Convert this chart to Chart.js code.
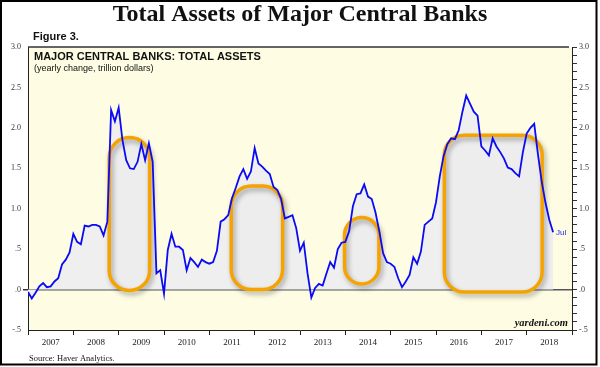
<!DOCTYPE html>
<html>
<head>
<meta charset="utf-8">
<title>Total Assets of Major Central Banks</title>
<script src="https://cdn.jsdelivr.net/npm/chart.js@4.4.1/dist/chart.umd.min.js"></script>
<style>
  html, body { margin: 0; padding: 0; background: #fff; }
  #wrap { width: 600px; height: 367px; position: relative; }
</style>
</head>
<body>
<div id="wrap"><canvas id="assetsChart"></canvas></div>
<script>
// yearly change in total assets, trillion dollars (month ends, Dec 2006 .. Jul 2018)
const assets = [
  -0.03, -0.11, -0.04, 0.04, 0.08, 0.03, 0.04, 0.10, 0.14, 0.31, 0.37, 0.46,
  0.69, 0.59, 0.56, 0.79, 0.78, 0.80, 0.80, 0.78, 0.67, 0.84, 2.22, 2.08,
  2.25, 1.85, 1.60, 1.50, 1.49, 1.58, 1.80, 1.60, 1.81, 1.58, 0.20, 0.24,
  -0.05, 0.49, 0.69, 0.53, 0.53, 0.49, 0.24, 0.39, 0.34, 0.28, 0.37, 0.34,
  0.32, 0.34, 0.48, 0.84, 0.87, 0.92, 1.13, 1.26, 1.40, 1.49, 1.37, 1.46,
  1.75, 1.56, 1.52, 1.47, 1.43, 1.27, 1.23, 1.12, 0.88, 0.90, 0.92, 0.76,
  0.48, 0.58, 0.20, -0.10, 0.02, 0.07, 0.05, 0.20, 0.34, 0.27, 0.50, 0.58,
  0.59, 0.72, 1.03, 1.18, 1.19, 1.30, 1.15, 1.12, 0.95, 0.72, 0.45, 0.34,
  0.32, 0.28, 0.14, 0.03, 0.10, 0.18, 0.40, 0.32, 0.47, 0.80, 0.84, 0.88,
  1.08, 1.40, 1.65, 1.80, 1.87, 1.86, 1.97, 2.20, 2.40, 2.30, 2.20, 2.15,
  1.77, 1.72, 1.66, 1.87, 1.77, 1.70, 1.62, 1.51, 1.49, 1.44, 1.40, 1.70,
  1.93, 2.00, 2.05, 1.67, 1.33, 1.07, 0.86, 0.71
];
const years = ['2007', '2008', '2009', '2010', '2011', '2012',
               '2013', '2014', '2015', '2016', '2017', '2018'];
const lastLabel = 'Jul';

// highlighted periods: month index range and value range
const highlightFrom = [21.5, 53.8, 83.8, 110.2];
const highlightTo = [32.2, 67.4, 92.9, 136.1];
const highlightTop = [1.88, 1.28, 0.89, 1.91];
const highlightBottom = [-0.01, 0.0, 0.07, -0.03];

const points = assets.map((v, i) => ({ x: i, y: v }));

function yLabel(value) {
    const v = Math.round(value * 10) / 10;
    if (Math.round(v * 10) % 5 !== 0) return '';
    let s = v.toFixed(1);
    if (Math.abs(v) < 1) s = s.replace('0.', '.');
    return s;
}

const serif = '"Liberation Serif", "Times New Roman", serif';
const sans = '"Liberation Sans", Arial, sans-serif';

// background, highlight boxes, texts
const decorations = {
    id: 'decorations',
    beforeDraw(chart) {
        const { ctx, chartArea: a } = chart;
        ctx.save();
        ctx.fillStyle = '#fff';
        ctx.fillRect(0, 0, chart.width, chart.height);
        ctx.fillStyle = '#FEFDE4';
        ctx.fillRect(a.left, a.top, a.right - a.left, a.bottom - a.top);
        ctx.restore();
    },
    afterDatasetDraw(chart, args) {
        if (args.index !== 0) return;
        const ctx = chart.ctx;
        const xs = chart.scales.x, ys = chart.scales.y;
        for (let i = 0; i < highlightFrom.length; i++) {
            const x0 = xs.getPixelForValue(highlightFrom[i]);
            const x1 = xs.getPixelForValue(highlightTo[i]);
            const y0 = ys.getPixelForValue(highlightTop[i]);
            const y1 = ys.getPixelForValue(highlightBottom[i]);
            const r = Math.min((x1 - x0) / 2, 20);
            ctx.save();
            ctx.beginPath();
            ctx.roundRect(x0, y0, x1 - x0, y1 - y0, r);
            ctx.fillStyle = '#EDEDEE';
            ctx.fill();
            ctx.shadowColor = 'rgba(0,0,0,0.35)';
            ctx.shadowBlur = 5;
            ctx.shadowOffsetX = 2;
            ctx.shadowOffsetY = 3;
            ctx.lineWidth = 3.5;
            ctx.strokeStyle = '#F5A300';
            ctx.stroke();
            ctx.restore();
        }
    },
    afterDraw(chart) {
        const { ctx, chartArea: a } = chart;
        ctx.save();
        // top border of the plot
        ctx.strokeStyle = '#333';
        ctx.lineWidth = 1.5;
        ctx.beginPath();
        ctx.moveTo(a.left, a.top);
        ctx.lineTo(a.right - 3, a.top);
        ctx.stroke();

        ctx.fillStyle = '#111';
        ctx.textBaseline = 'alphabetic';
        ctx.textAlign = 'center';
        ctx.font = 'bold 24px ' + serif;
        ctx.fillText('Total Assets of Major Central Banks', 300, 21);

        ctx.textAlign = 'left';
        ctx.font = 'bold 11px ' + sans;
        ctx.fillText('Figure 3.', 33, 40);
        ctx.fillText('MAJOR CENTRAL BANKS: TOTAL ASSETS', a.left + 6, 60);
        ctx.font = '9px ' + sans;
        ctx.fillText('(yearly change, trillion dollars)', a.left + 6, 71);

        ctx.font = '8.5px ' + serif;
        ctx.fillText('Source: Haver Analytics.', 29, 361);

        ctx.textAlign = 'right';
        ctx.font = 'italic bold 10.5px ' + serif;
        ctx.fillText('yardeni.com', a.right - 4, a.bottom - 4);

        // label at the last point
        const meta = chart.getDatasetMeta(1);
        const last = meta.data[meta.data.length - 1];
        ctx.textAlign = 'left';
        ctx.textBaseline = 'middle';
        ctx.fillStyle = '#2222EE';
        ctx.font = '8px ' + sans;
        ctx.fillText(lastLabel, last.x + 3, last.y + 1);

        // frame
        ctx.strokeStyle = '#000';
        ctx.lineWidth = 2;
        ctx.strokeRect(1, 1, 595.5, 363.5);
        ctx.restore();
    }
};

const yTicks = {
    stepSize: 0.1,
    maxTicksLimit: 100,
    autoSkip: false,
    padding: 2,
    color: '#333',
    font: { family: serif, size: 8 },
    callback: yLabel
};

new Chart(document.getElementById('assetsChart'), {
    type: 'line',
    data: {
        datasets: [{
            data: points,
            order: 2,
            borderWidth: 0,
            pointRadius: 0,
            backgroundColor: '#EFEFEF',
            fill: 'origin'
        }, {
            data: points,
            order: 1,
            borderColor: '#0A0AF5',
            borderWidth: 1.8,
            pointRadius: 0,
            tension: 0,
            fill: false
        }]
    },
    options: {
        responsive: true,
        maintainAspectRatio: false,
        animation: false,
        layout: { padding: { left: 8, right: 0, top: 47, bottom: 16 } },
        plugins: {
            legend: { display: false },
            tooltip: { enabled: false },
            title: { display: false }
        },
        scales: {
            x: {
                type: 'linear',
                min: 0,
                max: 144,
                afterFit: (s) => { s.height = 21; },
                border: { color: '#222', width: 1 },
                grid: {
                    drawOnChartArea: false,
                    tickLength: 5,
                    tickColor: (c) => (c.tick && c.tick.value % 12 === 0) ? '#222' : 'rgba(0,0,0,0)'
                },
                ticks: {
                    stepSize: 6,
                    autoSkip: false,
                    maxRotation: 0,
                    padding: 2,
                    color: '#222',
                    font: { family: serif, size: 9 },
                    callback: (v) => (v % 12 === 6) ? years[(v - 6) / 12] : ''
                }
            },
            y: {
                position: 'left',
                min: -0.5,
                max: 3.0,
                z: 1,
                afterFit: (s) => { s.width = 20; },
                border: { color: '#222', width: 1 },
                grid: {
                    drawOnChartArea: true,
                    tickLength: 5,
                    tickColor: '#333',
                    color: (c) => (c.tick && Math.abs(c.tick.value) < 1e-6) ? '#555' : 'rgba(0,0,0,0)',
                    lineWidth: (c) => (c.tick && Math.abs(c.tick.value) < 1e-6) ? 1.5 : 0
                },
                ticks: yTicks
            },
            y2: {
                position: 'right',
                min: -0.5,
                max: 3.0,
                afterFit: (s) => { s.width = 28; },
                border: { color: '#222', width: 1 },
                grid: {
                    drawOnChartArea: false,
                    tickLength: 5,
                    tickColor: '#333'
                },
                ticks: yTicks
            }
        }
    },
    plugins: [decorations]
});
</script>
</body>
</html>
